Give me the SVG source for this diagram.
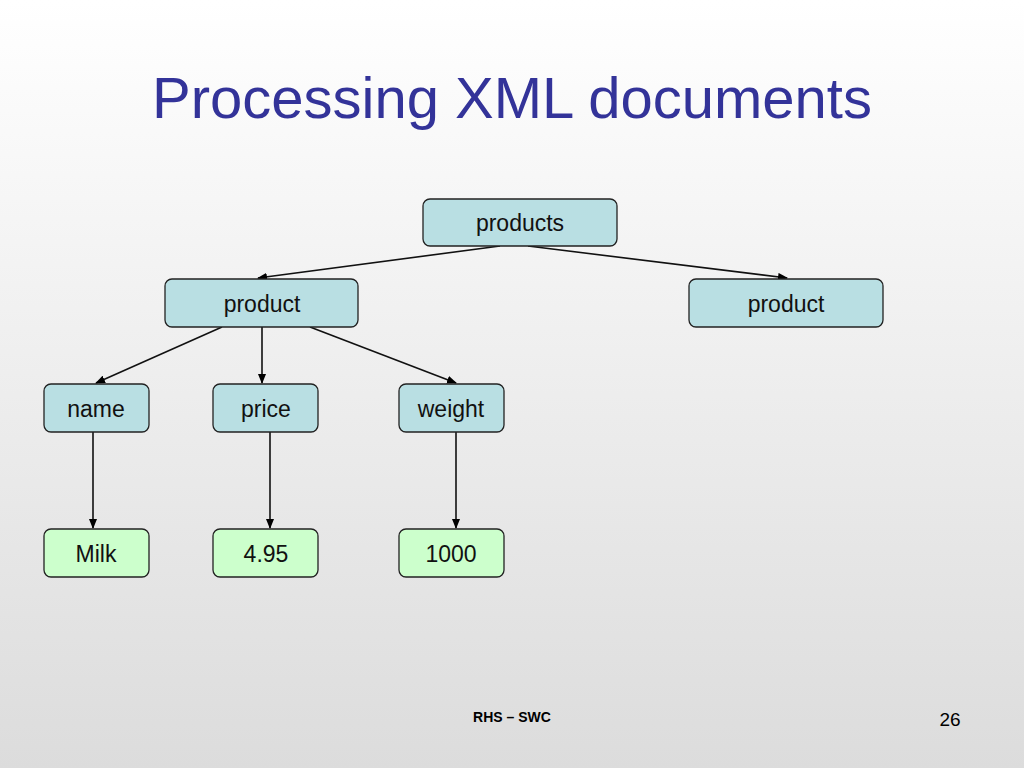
<svg xmlns="http://www.w3.org/2000/svg" width="1024" height="768" viewBox="0 0 1024 768">
<defs>
<linearGradient id="bg" x1="0" y1="0" x2="0" y2="1"><stop offset="0" stop-color="#ffffff"/><stop offset="1" stop-color="#dcdcdc"/></linearGradient>
<marker id="ar" markerWidth="10" markerHeight="8" refX="9" refY="4" orient="auto" markerUnits="userSpaceOnUse"><path d="M0,0 L10,4 L0,8 Z" fill="#000"/></marker>
<style>
.n rect{stroke:#222;stroke-width:1.3}
.e rect{fill:#b9dfe3}
.v rect{fill:#ccffcc}
.n text{font-family:"Liberation Sans",Arial,sans-serif;font-size:23px;text-anchor:middle;fill:#111}
#edges line{stroke:#111;stroke-width:1.6;marker-end:url(#ar)}
</style>
</defs>
<rect width="1024" height="768" fill="url(#bg)"/>
<text x="512" y="118" font-family="Liberation Sans,Arial,sans-serif" font-size="58" fill="#333399" text-anchor="middle">Processing XML documents</text>
<g id="edges">
<line x1="500" y1="246" x2="258" y2="278"/>
<line x1="528" y1="246" x2="787" y2="278"/>
<line x1="222" y1="327" x2="96" y2="383"/>
<line x1="262" y1="327" x2="262" y2="383"/>
<line x1="310" y1="327" x2="456" y2="383"/>
<line x1="93" y1="432" x2="93" y2="528"/>
<line x1="270" y1="432" x2="270" y2="528"/>
<line x1="456" y1="432" x2="456" y2="528"/>
</g>
<g id="products" class="n e"><rect x="423" y="199" width="194" height="47" rx="7"/><text x="520" y="231">products</text></g>
<g id="product1" class="n e"><rect x="165" y="279" width="193" height="48" rx="7"/><text x="262" y="312">product</text></g>
<g id="product2" class="n e"><rect x="689" y="279" width="194" height="48" rx="7"/><text x="786" y="312">product</text></g>
<g id="name" class="n e"><rect x="44" y="384" width="105" height="48" rx="7"/><text x="96" y="417">name</text></g>
<g id="price" class="n e"><rect x="213" y="384" width="105" height="48" rx="7"/><text x="266" y="417">price</text></g>
<g id="weight" class="n e"><rect x="399" y="384" width="105" height="48" rx="7"/><text x="451" y="417">weight</text></g>
<g id="milk" class="n v"><rect x="44" y="529" width="105" height="48" rx="7"/><text x="96" y="562">Milk</text></g>
<g id="v495" class="n v"><rect x="213" y="529" width="105" height="48" rx="7"/><text x="266" y="562">4.95</text></g>
<g id="v1000" class="n v"><rect x="399" y="529" width="105" height="48" rx="7"/><text x="451" y="562">1000</text></g>
<text x="512" y="722" font-family="Liberation Sans,Arial,sans-serif" font-size="14" font-weight="bold" text-anchor="middle" fill="#000">RHS – SWC</text>
<text x="950" y="726" font-family="Liberation Sans,Arial,sans-serif" font-size="19" text-anchor="middle" fill="#000">26</text>
</svg>
